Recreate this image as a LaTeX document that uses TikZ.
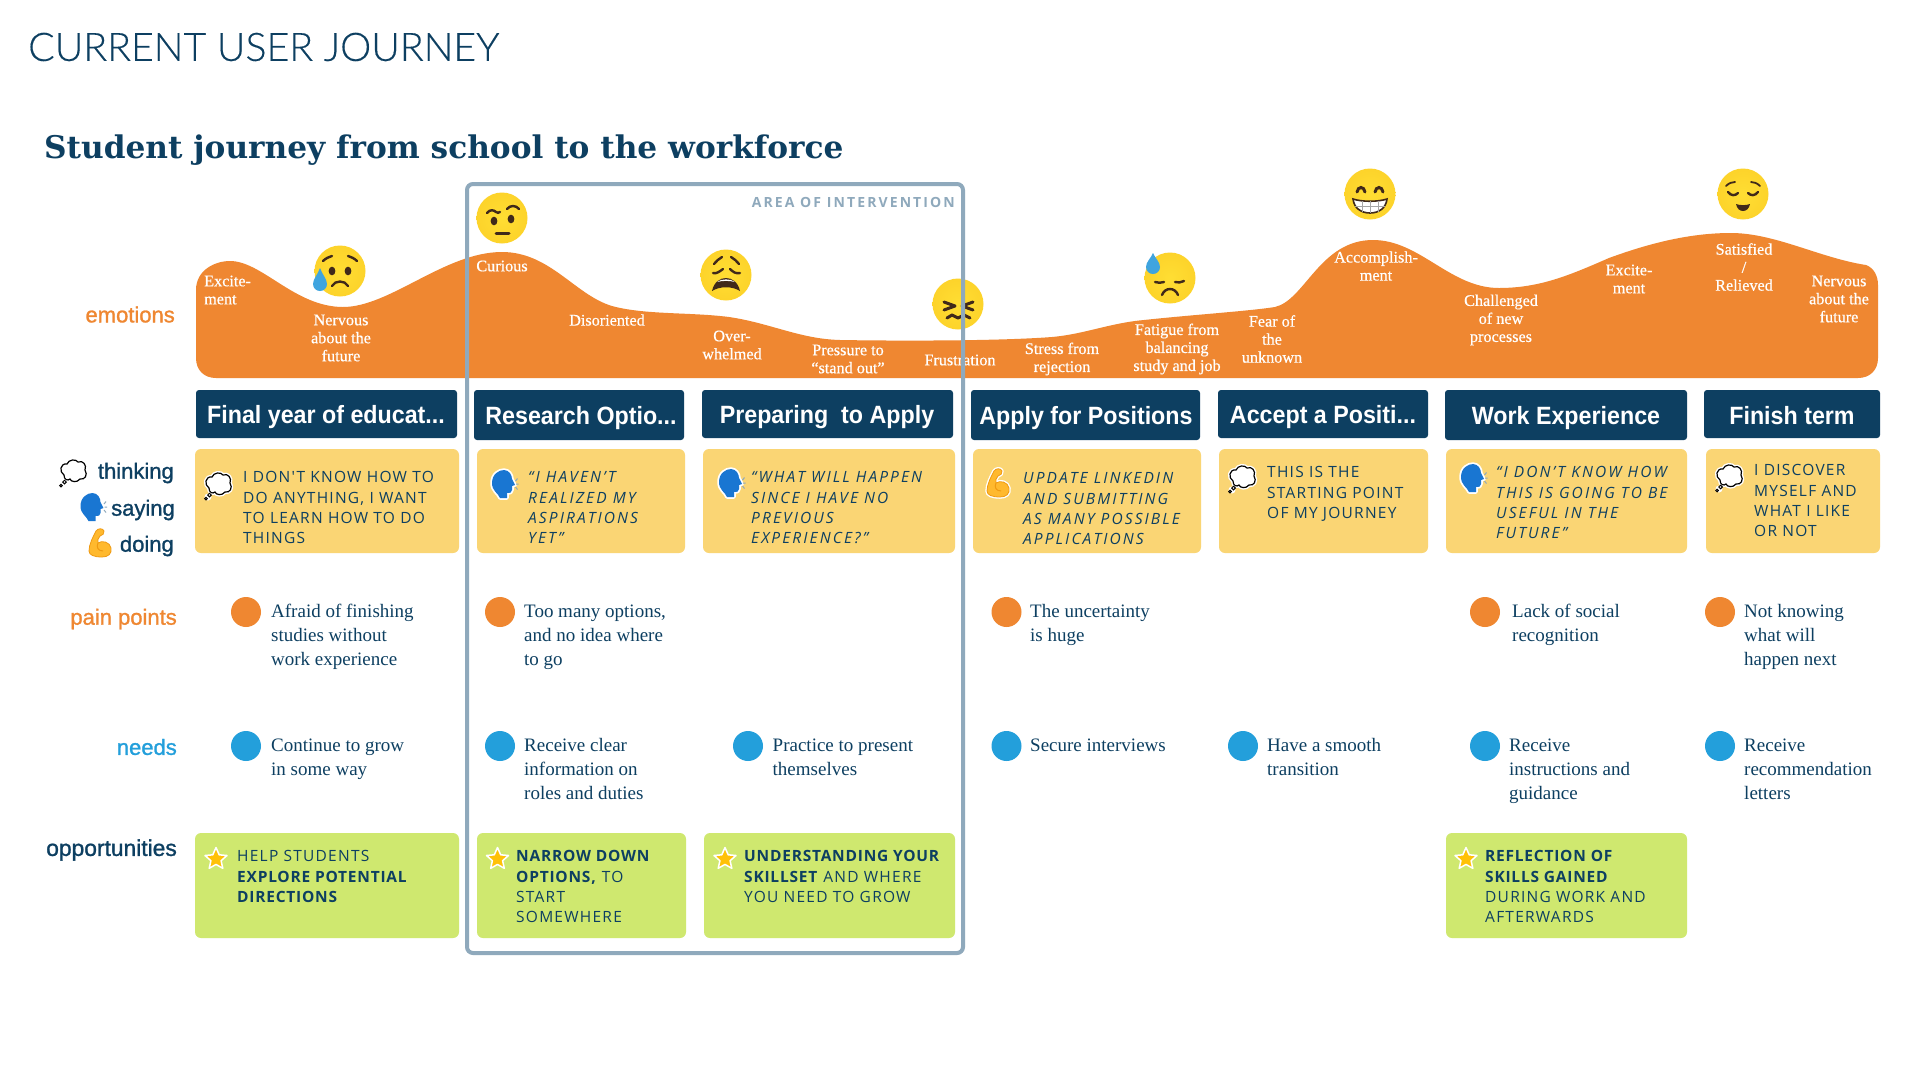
\documentclass[tikz,border=0pt]{standalone}
\usepackage{fontspec}
\setmainfont{Liberation Serif}
\newfontfamily\capsf[LetterSpace=8,ItalicFeatures={LetterSpace=13.5},BoldFeatures={LetterSpace=5}]{Open Sans}
\newfontfamily\areaf[LetterSpace=15]{Open Sans}
\newfontfamily\labelf[FakeBold=1.2]{Liberation Sans}
\newfontfamily\headf[FakeStretch=0.93]{Liberation Sans}
\newfontfamily\titlef[FakeBold=0.3]{Lato Light}
\newfontfamily\subf{DejaVu Serif}
\newfontfamily\emof[FakeBold=0.5]{Liberation Serif}
\definecolor{navy}{HTML}{0D3F61}
\definecolor{wave}{HTML}{EF8731}
\definecolor{sand}{HTML}{FAD574}
\definecolor{lime}{HTML}{CFE86F}
\definecolor{sky}{HTML}{239FDB}
\definecolor{steel}{HTML}{8FA9BC}
\definecolor{ink}{HTML}{40291A}
\definecolor{dropc}{HTML}{3FA4DF}
\definecolor{headblue}{HTML}{1976D2}
\definecolor{musclec}{HTML}{FFB92E}
\definecolor{muscled}{HTML}{EF9A12}
\definecolor{badgec}{HTML}{FFC107}
\pgfdeclareradialshading{facesh}{\pgfpoint{0bp}{0bp}}{rgb(0bp)=(1,.87,.2);rgb(30bp)=(.99,.82,.16);rgb(46bp)=(.98,.70,.14);rgb(50bp)=(.95,.62,.1)}
\tikzset{
  x=1pt,y=-1pt,
  head/.style={fill=navy,rounded corners=3pt,draw=none},
  card/.style={fill=sand,rounded corners=6pt,draw=none},
  opcard/.style={fill=lime,rounded corners=6pt,draw=none},
  headtxt/.style={text=white,font=\headf\bfseries\fontsize{25}{30}\selectfont,inner sep=0pt},
  captxt/.style={anchor=north west,inner sep=0pt,align=left,text=navy,font=\capsf\fontsize{15.5}{20.3}\selectfont},
  bodytxt/.style={anchor=north west,inner sep=0pt,align=left,text=navy,font=\fontsize{19}{24}\selectfont},
  emotxt/.style={inner sep=0pt,align=center,text=white,font=\emof\fontsize{16.2}{18}\selectfont},
  emoltxt/.style={emotxt,align=left,anchor=west},
  sidelbl/.style={anchor=east,inner sep=0pt,font=\labelf\fontsize{22}{26}\selectfont},
  painDot/.style={fill=wave,draw=none},
  needDot/.style={fill=sky,draw=none},
  fc/.style={line width=2.4pt,draw=ink,line cap=round,fill=none},
  fd/.style={fill=ink,draw=none},
  ballface/.pic={\shade[shading=facesh,draw=none] (0,0) circle[radius=25.5];},
  facesad/.pic={
    \pic{ballface};
    \draw[fc] (-17,-10) .. controls (-14,-13) and (-11,-14) .. (-8,-15);
    \draw[fc] (8,-15) .. controls (11,-14) and (14,-13) .. (17,-10);
    \fill[fd] (-8,0) ellipse[x radius=3.4,y radius=4.3];
    \fill[fd] (8,0) ellipse[x radius=3.4,y radius=4.3];
    \draw[fc] (-8,15) .. controls (-5,9) and (5,9) .. (8,15);
    \fill[dropc] (-20,-3) .. controls (-18,3) and (-13,8) .. (-13,13) arc[start angle=0,end angle=180,radius=7] .. controls (-27,8) and (-22,3) .. (-20,-3) -- cycle;
  },
  facebrow/.pic={
    \pic{ballface};
    \draw[fc] (-15,-5) .. controls (-12,-9) and (-8,-8) .. (-6,-6) .. controls (-5,-5) and (-3,-5) .. (-2,-6);
    \draw[fc] (5,-9) .. controls (8,-13) and (14,-13) .. (17,-9);
    \fill[fd] (-8,3) ellipse[x radius=3.4,y radius=4.3];
    \fill[fd] (9,1) ellipse[x radius=3.4,y radius=4.3];
    \draw[fc,line width=3pt] (-6,15) -- (7,15);
  },
  faceweary/.pic={
    \pic{ballface};
    \draw[fc] (-12,-11) .. controls (-10,-14) and (-7,-16) .. (-4,-18);
    \draw[fc] (5,-18) .. controls (8,-16) and (11,-14) .. (13,-11);
    \draw[fc] (-13,-2) .. controls (-10,-1) and (-7,-3) .. (-3,-6);
    \draw[fc] (4,-6) .. controls (7,-3) and (10,-1) .. (14,-2);
    \fill[fd] (-14,16) .. controls (-12,7) and (-6,3) .. (0,3) .. controls (6,3) and (12,7) .. (14,16) .. controls (6,11) and (-6,11) .. (-14,16) -- cycle;
    \fill[white] (-9,7) .. controls (-5,3.5) and (5,3.5) .. (9,7) .. controls (4,5.5) and (-4,5.5) .. (-9,7) -- cycle;
  },
  faceconf/.pic={
    \pic{ballface};
    \draw[fc,line join=round,line width=3pt] (-14,-2) -- (-3,2) -- (-14,6);
    \draw[fc,line join=round,line width=3pt] (15,-2) -- (4,2) -- (15,6);
    \draw[fc,line join=round,line width=3pt] (-11,14) -- (-6,11) -- (0,14) -- (6,11) -- (12,14);
  },
  facedown/.pic={
    \pic{ballface};
    \draw[fc] (-15,4) .. controls (-12,5) and (-9,5) .. (-6,4);
    \draw[fc] (5,4) .. controls (8,5) and (11,4.5) .. (14,3);
    \draw[fc] (-8,17) .. controls (-5,9) and (5,9) .. (8,17);
    \fill[dropc] (-17,-25) .. controls (-15,-20) and (-10,-16) .. (-10,-11) arc[start angle=0,end angle=180,radius=7] .. controls (-24,-16) and (-19,-20) .. (-17,-25) -- cycle;
  },
  facegrin/.pic={
    \pic{ballface};
    \draw[fc,line width=3pt] (-13,-2) .. controls (-12,-8) and (-6,-8) .. (-5,-2);
    \draw[fc,line width=3pt] (5,-2) .. controls (6,-8) and (12,-8) .. (13,-2);
    \draw[fill=white,draw=ink,line width=1.6pt] (-17,5) .. controls (-8,8) and (8,8) .. (17,5) .. controls (16,14) and (9,19) .. (0,19) .. controls (-9,19) and (-16,14) .. (-17,5) -- cycle;
    \draw[draw=gray!70,line width=1pt] (-15,12) -- (15,12) (-8,7) -- (-8,17.5) (0,7) -- (0,19) (8,7) -- (8,17.5);
  },
  facecalm/.pic={
    \pic{ballface};
    \draw[fc,line width=1.8pt] (-17,-8) .. controls (-14,-11) and (-11,-12) .. (-8,-12);
    \draw[fc,line width=1.8pt] (8,-12) .. controls (11,-12) and (14,-11) .. (17,-8);
    \draw[fc] (-15,-2) .. controls (-12,2) and (-8,2) .. (-5,-1);
    \draw[fc] (5,-1) .. controls (8,2) and (12,2) .. (15,-2);
    \fill[fd] (-7,10) .. controls (-3,11.5) and (3,11.5) .. (7,10) .. controls (6,15) and (3,17) .. (0,17) .. controls (-3,17) and (-6,15) .. (-7,10) -- cycle;
  },
  thought/.pic={
    \def\cloudp{(-10,3) .. controls (-15,0) and (-14,-9) .. (-7,-8) .. controls (-5,-13) and (2,-13) .. (4,-10) .. controls (9,-12) and (13,-7) .. (11,-2) .. controls (14,3) and (11,8) .. (6,7) .. controls (3,11) and (-3,10) .. (-4,7) .. controls (-6,9) and (-10,8) .. (-10,3) -- cycle}
    \fill[white] (-11,12) circle[radius=3.5];
    \draw[white,line width=4pt,line join=round] \cloudp;
    \draw[fill=white,draw=black,line width=1.2pt] \cloudp;
    \draw[fill=white,draw=black,line width=1pt] (-9.5,10) circle[radius=1.8] (-13,13.5) circle[radius=1.3];
  },
  speaker/.pic={
    \def\headp{(-11,-1) .. controls (-11,-10) and (-4,-14) .. (1,-14) .. controls (6,-14) and (9,-9) .. (9,-5) -- (12,1) -- (9,2) -- (9,6) .. controls (9,9) and (7,9) .. (4,9) -- (4,14) -- (-3,14) .. controls (-5,9) and (-11,7) .. (-11,-1) -- cycle}
    \draw[white,line width=3.5pt,line join=round] \headp;
    \fill[headblue] \headp;
    \draw[steel,line width=1pt] (12.5,-3) -- (14.5,-5.5) (13,0) -- (15.5,0) (12.5,3) -- (14.5,5.5);
  },
  muscle/.pic={
    \def\armp{(-4,-12) .. controls (-2,-15) and (3,-15) .. (4,-12) .. controls (5,-9) and (2,-8) .. (0,-7) .. controls (-2,-5) and (-3,-2) .. (-2,0) .. controls (2,-3) and (10,-1) .. (11,5) .. controls (12,11) and (8,14) .. (2,14) .. controls (-6,14) and (-11,12) .. (-11,8) .. controls (-11,1) and (-7,-6) .. (-4,-12) -- cycle}
    \draw[white,line width=3.5pt,line join=round] \armp;
    \draw[fill=musclec,draw=muscled,line width=.8pt] \armp;
    \draw[muscled,line width=1pt] (-2,0) .. controls (-4,4) and (-2,8) .. (3,8);
  },
  badge/.pic={
    \draw[fill=badgec,draw=white,line width=1.5pt,line join=round] (0,-11.5) -- (3.2,-4.2) -- (11,-3.5) -- (5.1,1.7) -- (6.8,9.3) -- (0,5.4) -- (-6.8,9.3) -- (-5.1,1.7) -- (-11,-3.5) -- (-3.2,-4.2) -- cycle;
  },
}
\newcommand\captext[4]{\node[captxt] (#1) at (#2,#3-6.5) {\rule{0pt}{12pt}#4};}
\newcommand\bodytext[4]{\node[bodytxt] (#1) at (#2,#3-8.5) {\rule{0pt}{14pt}#4};}
\begin{document}
\begin{tikzpicture}
\fill[white] (0,0) rectangle (1920,1080);
\useasboundingbox (0,0) rectangle (1920,1080);
% titles
\node[anchor=west,inner sep=0pt,text=navy,font=\titlef\fontsize{39.3}{44}\selectfont] (title) at (28,47) {CURRENT USER JOURNEY};
\node[anchor=west,inner sep=0pt,text=navy,font=\subf\bfseries\fontsize{31.2}{38}\selectfont] (subtitle) at (44,150) {Student journey from school to the workforce};
% wave
\fill[wave] (196,358) -- (196,290) .. controls (196,270) and (215,261) .. (230,261)
 .. controls (262,261) and (295,307) .. (343,307) .. controls (390,307) and (445,252) .. (502,252)
 .. controls (550,252) and (575,295) .. (612,306) .. controls (645,315) and (690,312) .. (729,317)
 .. controls (770,323) and (800,339) .. (840,340) .. controls (900,341) and (1000,341) .. (1052,337)
 .. controls (1085,334) and (1110,323) .. (1144,320) .. controls (1190,315) and (1250,311) .. (1275,307)
 .. controls (1305,300) and (1320,240) .. (1373,240) .. controls (1420,240) and (1450,288) .. (1499,288)
 .. controls (1540,288) and (1570,275) .. (1609,258) .. controls (1650,243) and (1690,233) .. (1731,233)
 .. controls (1775,233) and (1820,258) .. (1866,265) .. controls (1874,268) and (1878,276) .. (1878,285)
 -- (1878,358) .. controls (1878,370) and (1870,378) .. (1858,378) -- (216,378)
 .. controls (204,378) and (196,370) .. (196,358) -- cycle;
% emotion labels
\node[emoltxt] (e1) at (204,290) {Excite-\\ment};
\node[emotxt] (e2) at (341,338) {Nervous\\about the\\future};
\node[emotxt] (e3) at (502,266) {Curious};
\node[emotxt] (e4) at (607,320) {Disoriented};
\node[emotxt] (e5) at (732,345) {Over-\\whelmed};
\node[emotxt] (e6) at (848,359) {Pressure to\\“stand out”};
\node[emotxt] (e7) at (960,360) {Frustration};
\node[emotxt] (e8) at (1062,359) {Stress from\\rejection};
\node[emotxt] (e9) at (1177,349) {Fatigue from\\balancing\\study and job};
\node[emotxt] (e10) at (1272,339) {Fear of\\the\\unknown};
\node[emotxt] (e11) at (1376,266) {Accomplish-\\ment};
\node[emotxt] (e12) at (1501,320) {Challenged\\of new\\processes};
\node[emotxt] (e13) at (1629,279) {Excite-\\ment};
\node[emotxt] (e14) at (1744,267) {Satisfied\\/\\Relieved};
\node[emotxt] (e15) at (1839,299) {Nervous\\about the\\future};
% faces
\pic at (340,271) {facesad};
\pic at (502,218) {facebrow};
\pic at (726,275) {faceweary};
\pic at (958,304) {faceconf};
\pic at (1170,278) {facedown};
\pic at (1370,194) {facegrin};
\pic at (1743,194) {facecalm};
% side labels
\node[sidelbl,text=wave] (lemo) at (175,314.5) {emotions};
\node[sidelbl,text=navy] (lthi) at (174,473) {thinking};
\node[sidelbl,text=navy] (lsay) at (175,510) {saying};
\node[sidelbl,text=navy] (ldoi) at (174,546) {doing};
\node[sidelbl,text=wave] (lpai) at (177,619) {pain points};
\node[sidelbl,text=sky] (lnee) at (177,747) {needs};
\node[sidelbl,text=navy,font=\labelf\fontsize{22.8}{26}\selectfont] (lopp) at (177,850) {opportunities};
\pic at (74,472) {thought};
\pic at (91.5,507) {speaker};
\pic at (100,543) {muscle};
% headers
\fill[head] (196,390) rectangle (457,438);
\fill[head] (474,390) rectangle (684,440);
\fill[head] (702,390) rectangle (953,438);
\fill[head] (971,390) rectangle (1200,440);
\fill[head] (1218,390) rectangle (1428,438);
\fill[head] (1445,390) rectangle (1687,440);
\fill[head] (1704,390) rectangle (1880,438);
\node[headtxt] (h1) at (326,417) {Final year of educat...};
\node[headtxt] (h2) at (581,418) {Research Optio...};
\node[headtxt] (h3) at (827,417) {Preparing\ \ to Apply};
\node[headtxt] (h4) at (1086,418) {Apply for Positions};
\node[headtxt] (h5) at (1323,417) {Accept a Positi...};
\node[headtxt] (h6) at (1566,418) {Work Experience};
\node[headtxt] (h7) at (1792,416) {Finish term};
% yellow cards
\fill[card] (195,449) rectangle (459,553);
\fill[card] (477,449) rectangle (685,553);
\fill[card] (703,449) rectangle (955,553);
\fill[card] (973,449) rectangle (1201,553);
\fill[card] (1219,449) rectangle (1428,553);
\fill[card] (1446,449) rectangle (1687,553);
\fill[card] (1706,449) rectangle (1880,553);
\captext{c1}{243}{477}{I DON'T KNOW HOW TO\\DO ANYTHING, I WANT\\TO LEARN HOW TO DO\\THINGS}
\captext{c2}{528}{477}{\itshape “I HAVEN’T\\\itshape REALIZED MY\\\itshape ASPIRATIONS\\\itshape YET”}
\captext{c3}{751}{477}{\itshape “WHAT WILL HAPPEN\\\itshape SINCE I HAVE NO\\\itshape PREVIOUS\\\itshape EXPERIENCE?”}
\captext{c4}{1023}{478}{\itshape UPDATE LINKEDIN\\\itshape AND SUBMITTING\\\itshape AS MANY POSSIBLE\\\itshape APPLICATIONS}
\captext{c5}{1267}{472}{THIS IS THE\\STARTING POINT\\OF MY JOURNEY}
\captext{c6}{1496}{472}{\itshape “I DON’T KNOW HOW\\\itshape THIS IS GOING TO BE\\\itshape USEFUL IN THE\\\itshape FUTURE”}
\captext{c7}{1754}{470}{I DISCOVER\\MYSELF AND\\WHAT I LIKE\\OR NOT}
\pic at (219,485) {thought};
\pic at (503,484) {speaker};
\pic at (730,483) {speaker};
\pic at (998,483) {muscle};
\pic at (1243,478) {thought};
\pic at (1472,478) {speaker};
\pic at (1730,477) {thought};
% pain points
\foreach \px in {246,500,1006.5,1485,1720} \fill[painDot] (\px,612) circle[radius=15];
\bodytext{p1}{271}{612}{Afraid of finishing\\studies without\\work experience}
\bodytext{p2}{524}{612}{Too many options,\\and no idea where\\to go}
\bodytext{p3}{1030}{612}{The uncertainty\\is huge}
\bodytext{p4}{1512}{612}{Lack of social\\recognition}
\bodytext{p5}{1744}{612}{Not knowing\\what will\\happen next}
% needs
\foreach \px in {246,500,748,1006.5,1243,1485,1720} \fill[needDot] (\px,746) circle[radius=15];
\bodytext{n1}{271}{746}{Continue to grow\\in some way}
\bodytext{n2}{524}{746}{Receive clear\\information on\\roles and duties}
\bodytext{n3}{772.5}{746}{Practice to present\\themselves}
\bodytext{n4}{1030}{746}{Secure interviews}
\bodytext{n5}{1267}{746}{Have a smooth\\transition}
\bodytext{n6}{1509}{746}{Receive\\instructions and\\guidance}
\bodytext{n7}{1744}{746}{Receive\\recommendation\\letters}
% green cards
\fill[opcard] (195,833) rectangle (459,938);
\fill[opcard] (477,833) rectangle (686,938);
\fill[opcard] (704,833) rectangle (955,938);
\fill[opcard] (1446,833) rectangle (1687,938);
\captext{o1}{237}{856}{HELP STUDENTS\\\textbf{EXPLORE POTENTIAL}\\\textbf{DIRECTIONS}}
\captext{o2}{516}{856}{\textbf{NARROW DOWN}\\\textbf{OPTIONS,} TO\\START\\SOMEWHERE}
\captext{o3}{744}{856}{\textbf{UNDERSTANDING YOUR}\\\textbf{SKILLSET} AND WHERE\\YOU NEED TO GROW}
\captext{o4}{1485}{856}{\textbf{REFLECTION OF}\\\textbf{SKILLS GAINED}\\DURING WORK AND\\AFTERWARDS}
\pic at (216,859) {badge};
\pic at (497.5,859) {badge};
\pic at (725,859) {badge};
\pic at (1466,859) {badge};
% area of intervention
\draw[steel,line width=4pt,rounded corners=6pt] (467,184) rectangle (963,953);
\node[anchor=east,inner sep=0pt,text=steel,font=\areaf\bfseries\fontsize{14}{16}\selectfont] (area) at (955,202) {AREA OF INTERVENTION};
\end{tikzpicture}
\end{document}
